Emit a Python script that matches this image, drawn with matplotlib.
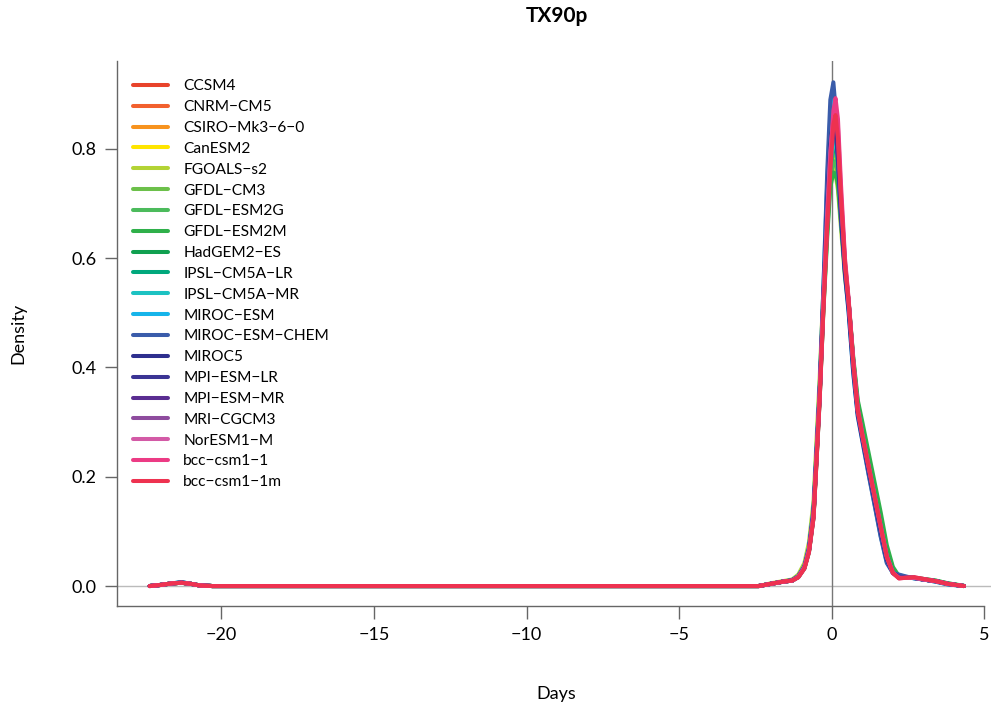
import numpy as np
import matplotlib
matplotlib.use("Agg")
import matplotlib.pyplot as plt

plt.rcParams['font.family'] = ['Lato', 'DejaVu Sans']

# density estimates of the TX90p change (days) for each CMIP5 model
days = [-22.35, -22.0, -21.6, -21.3, -21.0, -20.7, -20.3, -2.4, -2.0, -1.6,
        -1.3, -1.1, -0.9, -0.75, -0.6, -0.5, -0.4, -0.28, -0.15, -0.05,
        0.05, 0.12, 0.2, 0.3, 0.43, 0.55, 0.7, 0.85, 1.0, 1.2,
        1.4, 1.6, 1.8, 2.0, 2.2, 2.4, 2.7, 3.0, 3.4, 3.8, 4.33]

ccsm4 = [0, .002, .005, .006, .004, .001, 0, 0, .004, .008, .010, .017, .034, .064, .128, .235, .345, .51, .67, .77,
         .83, .838, .80, .70, .585, .52, .41, .322, .276, .221, .166, .110, .056, .025, .015, .015, .015, .012, .009, .004, 0]
cnrm_cm5 = [0, .002, .005, .006, .004, .001, 0, 0, .004, .008, .010, .017, .034, .065, .13, .24, .35, .515, .67, .765,
            .815, .818, .785, .69, .58, .515, .41, .322, .277, .222, .167, .111, .056, .025, .015, .015, .015, .012, .009, .004, 0]
csiro = [0, .002, .005, .006, .004, .001, 0, 0, .004, .008, .011, .018, .036, .068, .135, .245, .355, .52, .67, .76,
         .798, .795, .765, .68, .575, .515, .41, .323, .278, .223, .168, .112, .057, .026, .015, .015, .015, .012, .009, .004, 0]
canesm2 = [0, .002, .005, .006, .004, .001, 0, 0, .004, .008, .011, .018, .037, .07, .14, .25, .36, .52, .665, .755,
           .788, .785, .755, .675, .572, .513, .41, .324, .279, .224, .169, .113, .058, .026, .015, .015, .015, .012, .009, .004, 0]
fgoals_s2 = [0, .002, .005, .006, .004, .001, 0, 0, .005, .009, .012, .021, .042, .08, .155, .27, .38, .54, .68, .765,
             .768, .755, .725, .655, .565, .51, .41, .325, .28, .225, .17, .114, .058, .026, .015, .015, .015, .012, .009, .004, 0]
gfdl_cm3 = [0, .002, .005, .006, .004, .001, 0, 0, .004, .008, .010, .017, .034, .065, .13, .24, .35, .51, .66, .755,
            .798, .797, .77, .69, .585, .52, .415, .33, .285, .23, .175, .118, .062, .029, .016, .015, .015, .012, .009, .004, 0]
gfdl_esm2g = [0, .002, .005, .006, .004, .001, 0, 0, .004, .008, .010, .017, .033, .063, .127, .235, .345, .505, .65, .745,
              .778, .776, .755, .68, .58, .52, .415, .335, .292, .237, .182, .126, .068, .032, .017, .016, .015, .013, .01, .005, 0]
gfdl_esm2m = [0, .002, .005, .006, .004, .001, 0, 0, .004, .008, .010, .016, .032, .062, .125, .23, .34, .50, .64, .73,
              .757, .755, .735, .665, .58, .52, .42, .34, .30, .245, .19, .135, .075, .035, .018, .016, .015, .013, .01, .005, .0005]
hadgem2_es = [0, .002, .005, .006, .004, .001, 0, 0, .004, .008, .010, .017, .034, .065, .13, .24, .35, .515, .675, .775,
              .825, .828, .795, .695, .583, .518, .41, .322, .276, .221, .166, .110, .056, .025, .015, .015, .015, .012, .009, .004, 0]
ipsl_lr = [0, .002, .005, .006, .004, .001, 0, 0, .004, .008, .010, .017, .034, .065, .13, .24, .35, .515, .67, .765,
           .808, .806, .775, .69, .58, .517, .41, .322, .277, .222, .167, .111, .056, .025, .015, .015, .015, .012, .009, .004, 0]
ipsl_mr = [0, .002, .005, .007, .004, .001, 0, 0, .004, .008, .010, .017, .035, .066, .132, .243, .352, .518, .675, .77,
           .816, .815, .78, .69, .58, .516, .41, .321, .276, .221, .166, .110, .055, .025, .015, .015, .015, .012, .009, .004, 0]
miroc_esm = [0, .002, .005, .007, .004, .001, 0, 0, .004, .008, .011, .018, .036, .07, .14, .25, .36, .54, .74, .86,
             .895, .865, .785, .675, .572, .503, .392, .312, .267, .207, .15, .092, .044, .024, .02, .017, .014, .012, .008, .003, 0]
miroc_esm_chem = [0, .002, .005, .007, .004, .001, 0, 0, .004, .008, .011, .018, .036, .07, .14, .25, .36, .54, .76, .89,
                  .922, .875, .785, .67, .57, .50, .39, .31, .265, .205, .148, .09, .042, .024, .021, .018, .014, .012, .008, .003, 0]
miroc5 = [0, .002, .005, .006, .004, .001, 0, 0, .004, .008, .010, .017, .034, .066, .132, .24, .35, .52, .70, .81,
          .855, .84, .785, .68, .575, .51, .40, .316, .27, .213, .157, .10, .049, .024, .017, .016, .015, .012, .009, .004, 0]
mpi_lr = [0, .002, .005, .006, .004, .001, 0, 0, .004, .008, .010, .017, .034, .066, .132, .24, .35, .52, .69, .80,
          .847, .835, .785, .685, .578, .513, .405, .318, .272, .216, .16, .104, .052, .024, .016, .015, .015, .012, .009, .004, 0]
mpi_mr = [0, .002, .005, .006, .004, .001, 0, 0, .004, .008, .010, .017, .034, .065, .13, .24, .35, .52, .69, .80,
          .85, .857, .81, .70, .585, .518, .408, .32, .274, .218, .162, .106, .053, .024, .015, .015, .015, .012, .009, .004, 0]
mri_cgcm3 = [0, .002, .005, .006, .004, .001, 0, 0, .004, .008, .010, .017, .034, .066, .132, .243, .353, .522, .685, .795,
             .855, .868, .825, .71, .59, .52, .41, .321, .275, .219, .163, .107, .053, .024, .015, .015, .015, .012, .009, .004, 0]
noresm1_m = [0, .002, .005, .006, .004, .001, 0, 0, .004, .008, .010, .017, .034, .065, .13, .24, .35, .52, .68, .79,
             .86, .878, .84, .72, .595, .522, .412, .322, .276, .22, .164, .108, .054, .024, .015, .015, .015, .012, .009, .004, 0]
bcc_csm1_1 = [0, .002, .005, .006, .004, .001, 0, 0, .004, .008, .010, .016, .032, .062, .125, .232, .342, .505, .665, .78,
              .87, .893, .855, .735, .60, .525, .415, .325, .278, .222, .166, .110, .055, .024, .014, .015, .016, .013, .009, .004, 0]
bcc_csm1_1m = [0, .002, .005, .006, .004, .001, 0, 0, .004, .008, .010, .016, .032, .062, .125, .23, .34, .50, .66, .76,
               .845, .862, .82, .71, .59, .52, .41, .32, .276, .22, .165, .109, .054, .024, .014, .015, .016, .013, .009, .004, 0]

models = ["CCSM4", "CNRM\u2212CM5", "CSIRO\u2212Mk3\u22126\u22120", "CanESM2", "FGOALS\u2212s2",
          "GFDL\u2212CM3", "GFDL\u2212ESM2G", "GFDL\u2212ESM2M", "HadGEM2\u2212ES", "IPSL\u2212CM5A\u2212LR",
          "IPSL\u2212CM5A\u2212MR", "MIROC\u2212ESM", "MIROC\u2212ESM\u2212CHEM", "MIROC5", "MPI\u2212ESM\u2212LR",
          "MPI\u2212ESM\u2212MR", "MRI\u2212CGCM3", "NorESM1\u2212M", "bcc\u2212csm1\u22121", "bcc\u2212csm1\u22121m"]
densities = [ccsm4, cnrm_cm5, csiro, canesm2, fgoals_s2, gfdl_cm3, gfdl_esm2g, gfdl_esm2m,
             hadgem2_es, ipsl_lr, ipsl_mr, miroc_esm, miroc_esm_chem, miroc5, mpi_lr, mpi_mr,
             mri_cgcm3, noresm1_m, bcc_csm1_1, bcc_csm1_1m]
colors = ["#E8432B", "#F2602E", "#F7931E", "#FFE500", "#B3D335", "#6CC04A", "#4CBB5C", "#2FB04A",
          "#10A050", "#00A87C", "#1CC2C2", "#16B4EA", "#3A5CAA", "#2E2F8E", "#3B3494", "#5A2D91",
          "#8E4C9E", "#D35AA6", "#EC3B84", "#EE3250"]

fig = plt.figure(figsize=(9.91, 7.06), dpi=100)
ax = fig.add_axes([0.1181, 0.1416, 0.887, 0.772])

ax.axhline(0, color="#bbbbbb", lw=1.0, zorder=1)
ax.axvline(0, color="#777777", lw=1.0, zorder=1)

for name, dens, col in zip(models, densities, colors):
    ax.plot(days, dens, color=col, lw=2.9, label=name, solid_capstyle="round",
            solid_joinstyle="round", zorder=2)

ax.set_xlim(-23.42, 5.38)
ax.set_ylim(-0.0366, 0.961)
ax.set_xticks([-20, -15, -10, -5, 0, 5])
ax.set_xticklabels(["\u221220", "\u221215", "\u221210", "\u22125", "0", "5"])
ax.set_yticks([0.0, 0.2, 0.4, 0.6, 0.8])
ax.set_yticklabels(["0.0", "0.2", "0.4", "0.6", "0.8"])

for side in ["top", "right"]:
    ax.spines[side].set_visible(False)
for side in ["left", "bottom"]:
    ax.spines[side].set_color("#666666")
    ax.spines[side].set_linewidth(1.0)
ax.spines["bottom"].set_bounds(-23.42, 5)
ax.tick_params(direction="out", length=9, width=1.0, color="#666666",
               labelsize=13, pad=6, labelcolor="black")

ax.set_xlabel("Days", fontsize=13, labelpad=31)
ax.set_ylabel("Density", fontsize=13, labelpad=32)
ax.set_title("TX90p", fontsize=15, fontweight="bold", pad=28)

ax.legend(loc="upper left", bbox_to_anchor=(0.0, 0.995), frameon=False, fontsize=11.2,
          handlelength=2.3, handletextpad=0.95, labelspacing=0.44, borderaxespad=0.6)

fig.savefig("out.png", dpi=100)
